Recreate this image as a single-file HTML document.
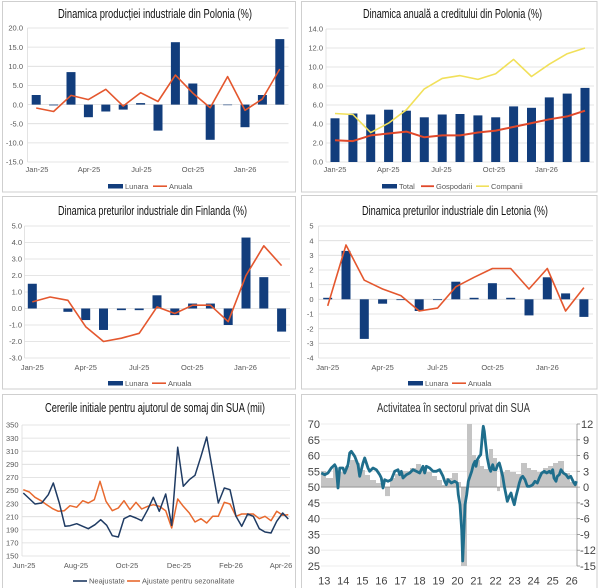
<!DOCTYPE html>
<html><head><meta charset="utf-8"><style>
html,body{margin:0;padding:0;background:#fff;}
svg{display:block;}
.t{font-family:"Liberation Sans Narrow","Liberation Sans",sans-serif;font-size:12.5px;fill:#111;}
.tk{font-family:"Liberation Sans",sans-serif;font-size:7.5px;fill:#595959;}
.lg{font-family:"Liberation Sans",sans-serif;font-size:7.5px;fill:#595959;}
.tk6{font-family:"Liberation Sans Narrow","Liberation Sans",sans-serif;font-size:11px;fill:#444;}
.g{stroke:#dcdcdc;stroke-width:0.8;}
</style></head><body>
<svg width="600" height="588" viewBox="0 0 600 588" xmlns="http://www.w3.org/2000/svg">
<rect width="600" height="588" fill="#fff"/>
<!-- panel borders -->
<g fill="none" stroke="#cfcfcf" stroke-width="1">
<rect x="2.5" y="1.5" width="293" height="190.5"/>
<rect x="301.5" y="1.5" width="295.5" height="190.5"/>
<rect x="2.5" y="196.5" width="293" height="192.5"/>
<rect x="301.5" y="195.5" width="295.5" height="193.5"/>
<rect x="2.5" y="394.5" width="293" height="195"/>
<rect x="301.5" y="394.5" width="295.5" height="195"/>
</g>

<!-- ============ PANEL 1 ============ -->
<text class="t" x="58" y="18" textLength="194" lengthAdjust="spacingAndGlyphs">Dinamica producției industriale din Polonia (%)</text>
<g class="g">
<line x1="27.5" y1="28" x2="288.5" y2="28"/><line x1="27.5" y1="47.1" x2="288.5" y2="47.1"/>
<line x1="27.5" y1="66.3" x2="288.5" y2="66.3"/><line x1="27.5" y1="85.4" x2="288.5" y2="85.4"/>
<line x1="27.5" y1="104.6" x2="288.5" y2="104.6"/><line x1="27.5" y1="123.7" x2="288.5" y2="123.7"/>
<line x1="27.5" y1="142.9" x2="288.5" y2="142.9"/><line x1="27.5" y1="162" x2="288.5" y2="162"/>
<line x1="27.5" y1="28" x2="27.5" y2="162"/>
</g>
<g class="tk" text-anchor="end">
<text x="23" y="30.7">20.0</text><text x="23" y="49.8">15.0</text><text x="23" y="69">10.0</text>
<text x="23" y="88.1">5.0</text><text x="23" y="107.3">0.0</text><text x="23" y="126.4">-5.0</text>
<text x="23" y="145.6">-10.0</text><text x="23" y="164.7">-15.0</text>
</g>
<g class="tk" text-anchor="middle">
<text x="37" y="172">Jan-25</text><text x="89" y="172">Apr-25</text><text x="141.5" y="172">Jul-25</text>
<text x="193" y="172">Oct-25</text><text x="245" y="172">Jan-26</text>
</g>
<g fill="#123d7c">
<rect x="31.7" y="95" width="9" height="9.6"/><rect x="49.1" y="104.6" width="9" height="0.8"/>
<rect x="66.5" y="72.1" width="9" height="32.5"/><rect x="83.9" y="104.6" width="9" height="12.6"/>
<rect x="101.3" y="104.6" width="9" height="6.9"/><rect x="118.7" y="104.6" width="9" height="5"/>
<rect x="136.1" y="103.1" width="9" height="1.5"/><rect x="153.5" y="104.6" width="9" height="26"/>
<rect x="170.9" y="42.2" width="9" height="62.4"/><rect x="188.3" y="83.5" width="9" height="21.1"/>
<rect x="205.7" y="104.6" width="9" height="35.2"/><rect x="223.1" y="104.6" width="9" height="0.6"/>
<rect x="240.5" y="104.6" width="9" height="22.6"/><rect x="257.9" y="95" width="9" height="9.6"/>
<rect x="275.3" y="39.1" width="9" height="65.5"/>
</g>
<polyline fill="none" stroke="#e4572e" stroke-width="1.6" stroke-linejoin="round" points="36.2,108 53.6,111.5 71,95.4 88.4,99.6 105.8,89.3 123.2,106.1 140.6,92.7 158,101.5 175.4,75.1 192.8,93.1 210.2,107.7 227.6,76.6 245,110.3 262.4,98.9 279.8,69"/>
<rect x="108" y="184" width="15" height="4.5" fill="#123d7c"/>
<text class="lg" x="125" y="188.8">Lunara</text>
<line x1="153" y1="186.2" x2="167" y2="186.2" stroke="#e4572e" stroke-width="1.6"/>
<text class="lg" x="169" y="188.8">Anuala</text>

<!-- ============ PANEL 2 ============ -->
<text class="t" x="363" y="18" textLength="179" lengthAdjust="spacingAndGlyphs">Dinamica anuală a creditului din Polonia (%)</text>
<g class="g">
<line x1="326" y1="29" x2="594" y2="29"/><line x1="326" y1="48" x2="594" y2="48"/>
<line x1="326" y1="67" x2="594" y2="67"/><line x1="326" y1="86" x2="594" y2="86"/>
<line x1="326" y1="105" x2="594" y2="105"/><line x1="326" y1="124" x2="594" y2="124"/>
<line x1="326" y1="143" x2="594" y2="143"/><line x1="326" y1="162" x2="594" y2="162"/>
<line x1="326" y1="29" x2="326" y2="162"/>
</g>
<g class="tk" text-anchor="end">
<text x="323" y="31.7">14.0</text><text x="323" y="50.7">12.0</text><text x="323" y="69.7">10.0</text>
<text x="323" y="88.7">8.0</text><text x="323" y="107.7">6.0</text><text x="323" y="126.7">4.0</text>
<text x="323" y="145.7">2.0</text><text x="323" y="164.7">0.0</text>
</g>
<g class="tk" text-anchor="middle">
<text x="335" y="172">Jan-25</text><text x="388.3" y="172">Apr-25</text><text x="441.5" y="172">Jul-25</text>
<text x="494" y="172">Oct-25</text><text x="546.5" y="172">Jan-26</text>
</g>
<g fill="#123d7c">
<rect x="330.5" y="118.3" width="9" height="43.7"/><rect x="348.4" y="113.5" width="9" height="48.5"/>
<rect x="366.2" y="114.5" width="9" height="47.5"/><rect x="384.1" y="109.7" width="9" height="52.3"/>
<rect x="401.9" y="110.7" width="9" height="51.3"/><rect x="419.8" y="117.3" width="9" height="44.7"/>
<rect x="437.7" y="114.5" width="9" height="47.5"/><rect x="455.5" y="114" width="9" height="48"/>
<rect x="473.4" y="115.4" width="9" height="46.6"/><rect x="491.2" y="117.3" width="9" height="44.7"/>
<rect x="509.1" y="106.4" width="9" height="55.6"/><rect x="527" y="107.8" width="9" height="54.2"/>
<rect x="544.8" y="97.4" width="9" height="64.6"/><rect x="562.7" y="93.6" width="9" height="68.4"/>
<rect x="580.5" y="87.9" width="9" height="74.1"/>
</g>
<polyline fill="none" stroke="#e0482a" stroke-width="2" stroke-linejoin="round" points="335,140.2 352.9,141.1 370.7,135.4 388.6,133.5 406.4,131.6 424.3,137.3 442.2,135.4 460,135.4 477.9,132.5 495.7,130.6 513.6,126.9 531.5,123.1 549.3,119.3 567.2,116.4 585,110.7"/>
<polyline fill="none" stroke="#f1e05a" stroke-width="1.6" stroke-linejoin="round" points="335,113.5 352.9,114.5 370.7,132.6 388.6,123.1 406.4,109.8 424.3,88.9 442.2,78.4 460,75.6 477.9,79.4 495.7,73.7 513.6,59.4 531.5,76.5 549.3,64.2 567.2,53.7 585,48"/>
<rect x="382" y="184" width="15" height="4.5" fill="#123d7c"/>
<text class="lg" x="399" y="188.8">Total</text>
<line x1="421" y1="186.2" x2="434" y2="186.2" stroke="#e0482a" stroke-width="1.8"/>
<text class="lg" x="436" y="188.8">Gospodarii</text>
<line x1="476" y1="186.2" x2="489" y2="186.2" stroke="#f1e05a" stroke-width="1.6"/>
<text class="lg" x="491" y="188.8">Companii</text>

<!-- ============ PANEL 3 ============ -->
<text class="t" x="58" y="215" textLength="189" lengthAdjust="spacingAndGlyphs">Dinamica preturilor industriale din Finlanda (%)</text>
<g class="g">
<line x1="24.5" y1="226" x2="290" y2="226"/><line x1="24.5" y1="242.5" x2="290" y2="242.5"/>
<line x1="24.5" y1="259" x2="290" y2="259"/><line x1="24.5" y1="275.5" x2="290" y2="275.5"/>
<line x1="24.5" y1="292" x2="290" y2="292"/><line x1="24.5" y1="308.5" x2="290" y2="308.5"/>
<line x1="24.5" y1="325" x2="290" y2="325"/><line x1="24.5" y1="341.5" x2="290" y2="341.5"/>
<line x1="24.5" y1="358" x2="290" y2="358"/>
<line x1="24.5" y1="226" x2="24.5" y2="358"/>
</g>
<g class="tk" text-anchor="end">
<text x="22" y="228.7">5.0</text><text x="22" y="245.2">4.0</text><text x="22" y="261.7">3.0</text>
<text x="22" y="278.2">2.0</text><text x="22" y="294.7">1.0</text><text x="22" y="311.2">0.0</text>
<text x="22" y="327.7">-1.0</text><text x="22" y="344.2">-2.0</text><text x="22" y="360.7">-3.0</text>
</g>
<g class="tk" text-anchor="middle">
<text x="32.3" y="370">Jan-25</text><text x="85.7" y="370">Apr-25</text><text x="139.2" y="370">Jul-25</text>
<text x="192.3" y="370">Oct-25</text><text x="245.5" y="370">Jan-26</text>
</g>
<g fill="#123d7c">
<rect x="27.8" y="283.75" width="9" height="24.75"/>
<rect x="63.4" y="308.5" width="9" height="3.3"/><rect x="81.2" y="308.5" width="9" height="11.55"/>
<rect x="99" y="308.5" width="9" height="21.45"/><rect x="116.9" y="308.5" width="9" height="1.65"/>
<rect x="134.7" y="308.5" width="9" height="1.65"/><rect x="152.5" y="295.3" width="9" height="13.2"/>
<rect x="170.3" y="308.5" width="9" height="6.6"/><rect x="188.1" y="303.55" width="9" height="4.95"/>
<rect x="205.9" y="303.55" width="9" height="4.95"/><rect x="223.7" y="308.5" width="9" height="16.5"/>
<rect x="241.5" y="237.55" width="9" height="70.95"/><rect x="259.3" y="277.15" width="9" height="31.35"/>
<rect x="277.1" y="308.5" width="9" height="23.1"/>
</g>
<polyline fill="none" stroke="#e4572e" stroke-width="1.6" stroke-linejoin="round" points="32.3,301.9 50.1,297 67.9,300.3 85.7,326.7 103.5,341.5 121.4,338.2 139.2,333.3 157,306.9 174.8,313.5 192.6,305.2 210.4,305.2 228.2,321.7 246,275.5 263.8,245.8 281.6,265.6"/>
<rect x="108" y="381" width="15" height="4.5" fill="#123d7c"/>
<text class="lg" x="125" y="385.8">Lunara</text>
<line x1="152" y1="383.2" x2="166" y2="383.2" stroke="#e4572e" stroke-width="1.6"/>
<text class="lg" x="168" y="385.8">Anuala</text>

<!-- ============ PANEL 4 ============ -->
<text class="t" x="362" y="215" textLength="186" lengthAdjust="spacingAndGlyphs">Dinamica preturilor industriale din Letonia (%)</text>
<g class="g">
<line x1="318.5" y1="226" x2="593" y2="226"/><line x1="318.5" y1="240.7" x2="593" y2="240.7"/>
<line x1="318.5" y1="255.3" x2="593" y2="255.3"/><line x1="318.5" y1="270" x2="593" y2="270"/>
<line x1="318.5" y1="284.7" x2="593" y2="284.7"/><line x1="318.5" y1="299.3" x2="593" y2="299.3"/>
<line x1="318.5" y1="314" x2="593" y2="314"/><line x1="318.5" y1="328.7" x2="593" y2="328.7"/>
<line x1="318.5" y1="343.3" x2="593" y2="343.3"/><line x1="318.5" y1="358" x2="593" y2="358"/>
<line x1="318.5" y1="226" x2="318.5" y2="358"/>
</g>
<g class="tk" text-anchor="end">
<text x="313.5" y="228.7">5</text><text x="313.5" y="243.4">4</text><text x="313.5" y="258">3</text>
<text x="313.5" y="272.7">2</text><text x="313.5" y="287.4">1</text><text x="313.5" y="302">0</text>
<text x="313.5" y="316.7">-1</text><text x="313.5" y="331.4">-2</text><text x="313.5" y="346">-3</text>
<text x="313.5" y="360.7">-4</text>
</g>
<g class="tk" text-anchor="middle">
<text x="327.7" y="370">Jan-25</text><text x="382.6" y="370">Apr-25</text><text x="437.5" y="370">Jul-25</text>
<text x="492.6" y="370">Oct-25</text><text x="547.3" y="370">Jan-26</text>
</g>
<g fill="#123d7c">
<rect x="323.2" y="297.8" width="9" height="1.5"/><rect x="341.5" y="250.9" width="9" height="48.4"/>
<rect x="359.8" y="299.3" width="9" height="39.6"/><rect x="378.1" y="299.3" width="9" height="4.4"/>
<rect x="396.4" y="299.3" width="9" height="0.8"/><rect x="414.7" y="299.3" width="9" height="11.7"/>
<rect x="433" y="299.3" width="9" height="0.8"/><rect x="451.3" y="281.7" width="9" height="17.6"/>
<rect x="469.6" y="297.8" width="9" height="1.5"/><rect x="487.9" y="283.2" width="9" height="16.1"/>
<rect x="506.2" y="297.8" width="9" height="1.5"/><rect x="524.5" y="299.3" width="9" height="16.1"/>
<rect x="542.8" y="277.3" width="9" height="22"/><rect x="561.1" y="293.4" width="9" height="5.9"/>
<rect x="579.4" y="299.3" width="9" height="17.6"/>
</g>
<polyline fill="none" stroke="#e4572e" stroke-width="1.6" stroke-linejoin="round" points="327.7,305.9 346,245 364.3,280.2 382.6,289 400.9,295.6 419.2,311 437.5,308.1 455.8,286.8 474.1,277.3 492.4,268.5 510.7,268.5 529,289 547.3,268.5 565.6,311 583.9,287.6"/>
<rect x="408" y="381" width="15" height="4.5" fill="#123d7c"/>
<text class="lg" x="425" y="385.8">Lunara</text>
<line x1="452" y1="383.2" x2="466" y2="383.2" stroke="#e4572e" stroke-width="1.6"/>
<text class="lg" x="468" y="385.8">Anuala</text>

<!-- ============ PANEL 5 ============ -->
<text class="t" x="45" y="412" textLength="220" lengthAdjust="spacingAndGlyphs">Cererile initiale pentru ajutorul de somaj din SUA (mii)</text>
<g class="g">
<line x1="22" y1="425" x2="290" y2="425"/><line x1="22" y1="438.1" x2="290" y2="438.1"/>
<line x1="22" y1="451.2" x2="290" y2="451.2"/><line x1="22" y1="464.3" x2="290" y2="464.3"/>
<line x1="22" y1="477.4" x2="290" y2="477.4"/><line x1="22" y1="490.5" x2="290" y2="490.5"/>
<line x1="22" y1="503.6" x2="290" y2="503.6"/><line x1="22" y1="516.7" x2="290" y2="516.7"/>
<line x1="22" y1="529.8" x2="290" y2="529.8"/><line x1="22" y1="542.9" x2="290" y2="542.9"/>
<line x1="22" y1="556" x2="290" y2="556"/>
<line x1="22" y1="425" x2="22" y2="556"/>
</g>
<g class="tk" text-anchor="end">
<text x="18.5" y="427.7">350</text><text x="18.5" y="440.8">330</text><text x="18.5" y="453.9">310</text>
<text x="18.5" y="467">290</text><text x="18.5" y="480.1">270</text><text x="18.5" y="493.2">250</text>
<text x="18.5" y="506.3">230</text><text x="18.5" y="519.4">210</text><text x="18.5" y="532.5">190</text>
<text x="18.5" y="545.6">170</text><text x="18.5" y="558.7">150</text>
</g>
<g class="tk" text-anchor="middle">
<text x="24" y="568">Jun-25</text><text x="76" y="568">Aug-25</text><text x="127" y="568">Oct-25</text>
<text x="179" y="568">Dec-25</text><text x="231" y="568">Feb-26</text><text x="281" y="568">Apr-26</text>
</g>
<polyline fill="none" stroke="#e8692e" stroke-width="1.5" stroke-linejoin="round" points="23.3,489.7 29.3,492 35,497.3 41,500.7 46.7,504.7 52.7,508.7 58.3,511.3 64.3,510.7 70,505.7 76.7,507.3 82.7,500.7 88.3,503 94.3,499.7 100,481.3 106,501.3 112.3,510.7 118.3,508 124,500.7 130,509.7 136,502.3 141.7,509 147.7,506.3 153.3,504.7 159.3,506.3 165.7,510.7 171.7,528 177.7,499 183.3,506.3 189.3,513 195,522 201,518.7 206.7,523 212.7,516.3 218.3,516.3 224.3,502.3 230,504 236,516.3 241.7,514 247.7,514 253.3,514 259.3,518.7 265,516.3 271,520.7 276.7,511.3 282.7,515.3 288.3,514.7"/>
<polyline fill="none" stroke="#1f3b63" stroke-width="1.5" stroke-linejoin="round" points="23.3,493 35,504 41.7,503 48.3,494.7 53.3,483 59.3,503 65,526.3 70,525.7 76.7,523.7 82.7,526.3 88.3,528.7 95,524.7 100.7,519.7 106.7,525.3 112.3,535.7 118.3,537 124,518.7 130,515.7 136,518 141.7,520.7 147.7,509.7 153.3,497.3 159.3,511.3 165.7,494 171.7,525.3 177.7,447.3 183.3,486.3 189.3,479.7 195,475.3 201,456.3 206.7,437 212.7,471.3 218.3,503 224.3,488 230,489.7 236,516.3 241.7,526.3 247.7,514 253.3,516.3 259.3,528.7 265,532 271,533 276.7,521.3 282.7,513 288.3,519"/>
<line x1="73" y1="581" x2="87" y2="581" stroke="#1f3b63" stroke-width="1.6"/>
<text class="lg" x="89" y="583.6">Neajustate</text>
<line x1="127" y1="581" x2="140" y2="581" stroke="#e8692e" stroke-width="1.6"/>
<text class="lg" x="142" y="583.6">Ajustate pentru sezonalitate</text>

<!-- ============ PANEL 6 ============ -->
<text class="t" x="377" y="412" textLength="153" lengthAdjust="spacingAndGlyphs" style="fill:#333">Activitatea în sectorul privat din SUA</text>
<g stroke="#e6e6e6" stroke-width="0.8">
<line x1="321" y1="424" x2="577" y2="424"/><line x1="321" y1="439.8" x2="577" y2="439.8"/>
<line x1="321" y1="455.6" x2="577" y2="455.6"/><line x1="321" y1="471.3" x2="577" y2="471.3"/>
<line x1="321" y1="502.9" x2="577" y2="502.9"/><line x1="321" y1="518.7" x2="577" y2="518.7"/>
<line x1="321" y1="534.4" x2="577" y2="534.4"/><line x1="321" y1="550.2" x2="577" y2="550.2"/>
<line x1="321" y1="566" x2="577" y2="566"/>
</g>
<!-- gray bars -->
<g fill="#c4c4c4">
<rect x="321" y="471" width="5" height="16.1"/><rect x="326" y="478" width="7" height="9.1"/>
<rect x="333" y="468" width="5" height="19.1"/><rect x="338" y="472" width="7" height="15.1"/>
<rect x="345" y="466" width="5" height="21.1"/><rect x="350" y="460" width="6" height="27.1"/>
<rect x="356" y="463" width="4" height="24.1"/><rect x="360" y="470" width="5" height="17.1"/>
<rect x="365" y="475" width="5" height="12.1"/><rect x="370" y="480" width="6" height="7.1"/>
<rect x="376" y="483" width="6" height="4.1"/><rect x="382" y="486" width="3" height="1.1"/>
<rect x="385" y="487.1" width="5" height="9"/><rect x="390" y="478" width="5" height="9.1"/>
<rect x="395" y="474" width="5" height="13.1"/><rect x="400" y="471" width="10" height="16.1"/>
<rect x="410" y="468" width="6" height="19.1"/><rect x="416" y="464" width="5" height="23.1"/>
<rect x="421" y="468" width="6" height="19.1"/><rect x="427" y="472" width="5" height="15.1"/>
<rect x="432" y="476" width="5" height="11.1"/><rect x="437" y="480" width="5" height="7.1"/>
<rect x="442" y="485" width="4" height="2.1"/><rect x="446" y="478" width="6" height="9.1"/>
<rect x="452" y="473" width="6" height="14.1"/><rect x="458" y="482" width="3" height="5.1"/>
<rect x="461" y="487.1" width="6" height="78.9"/><rect x="467" y="424" width="5" height="63.1"/>
<rect x="472" y="455" width="4" height="32.1"/><rect x="476" y="460" width="4" height="27.1"/>
<rect x="480" y="466" width="4" height="21.1"/><rect x="484" y="469" width="5" height="18.1"/>
<rect x="489" y="449" width="4" height="38.1"/><rect x="493" y="458" width="4" height="29.1"/>
<rect x="497" y="487.1" width="3" height="4"/><rect x="500" y="472" width="5" height="15.1"/>
<rect x="505" y="470" width="5" height="17.1"/><rect x="510" y="472" width="6" height="15.1"/>
<rect x="516" y="474" width="5" height="13.1"/><rect x="521" y="463" width="6" height="24.1"/>
<rect x="527" y="468" width="4" height="19.1"/><rect x="531" y="470" width="6" height="17.1"/>
<rect x="537" y="472" width="6" height="15.1"/><rect x="543" y="468" width="5" height="19.1"/>
<rect x="548" y="466" width="5" height="21.1"/><rect x="553" y="463" width="5" height="24.1"/>
<rect x="558" y="461" width="6" height="26.1"/><rect x="564" y="473" width="6" height="14.1"/>
<rect x="570" y="482" width="6" height="5.1"/>
</g>
<line x1="321" y1="487.1" x2="577" y2="487.1" stroke="#8a8a8a" stroke-width="0.9"/>
<g stroke="#8a8a8a" stroke-width="0.8">
<line x1="577" y1="424" x2="577" y2="566"/>
<line x1="577" y1="424" x2="580" y2="424"/><line x1="577" y1="439.8" x2="580" y2="439.8"/>
<line x1="577" y1="455.6" x2="580" y2="455.6"/><line x1="577" y1="471.3" x2="580" y2="471.3"/>
<line x1="577" y1="487.1" x2="580" y2="487.1"/><line x1="577" y1="502.9" x2="580" y2="502.9"/>
<line x1="577" y1="518.7" x2="580" y2="518.7"/><line x1="577" y1="534.4" x2="580" y2="534.4"/>
<line x1="577" y1="550.2" x2="580" y2="550.2"/><line x1="577" y1="566" x2="580" y2="566"/>
</g>
<polyline fill="none" stroke="#1f6e8c" stroke-width="2.8" stroke-linejoin="round" points="321.3,473 324.7,474.7 328,473 331.3,468 334.7,464.7 336.3,468 338,488 339.7,468 343,468 344.7,473 348,464.7 349.7,453 351.3,451.3 354.7,456.3 358,464.7 359.7,476.3 363,463 364.7,458 368,468 369.7,471.3 373,468 376.3,469.7 379.7,474.7 381.3,478 383,488 384.7,479.7 388,481.3 391.3,479.7 394.7,471.3 398,469.7 399.7,474.7 401.3,471.3 403,478 406.3,474.7 409.7,473 413,469.7 416.3,471.3 419.7,473 421.3,469.7 423,466.3 424.7,473 426.3,466.3 429.7,468 433,471.3 436.3,471.3 439.7,469.7 443,476.3 444.7,481.3 446.3,484.7 448,479.7 451.3,483 454.7,481.3 457.3,483 458.3,494.7 460,504.7 461.7,530 462.7,561 464,530 465,504.7 466.7,494.7 468.3,481.3 470,476.3 471.7,471.3 473.3,464.7 475,461.3 476,466.3 477.3,459.7 479.3,456.3 480.7,454.7 481.7,443 482.7,431.3 483.3,426.3 484.3,431.3 485.7,444.7 487.3,458 489.3,468 490.7,471.3 492.7,464.7 494,469.7 496,469.7 497.7,464.7 499.3,463 500.7,468 502.7,476.3 504.3,486.3 506,494.7 507.3,501.3 509.3,496.3 511,493 512.7,499.7 514.3,504.7 516,496.3 517.7,489.7 519.3,483 521,478 522.7,476.3 525,479.7 527.3,486.3 530,486.3 532.7,484.7 535,481.3 537.3,483 539.3,478 541.7,473 544.3,471.3 546.7,473 549.3,471.3 551,473 552.7,469.7 554,478 556,481.3 557.3,476.3 559.3,474.7 561,469.7 563.3,473 566,474.7 568.3,478 570.7,476.3 572.3,479.7 574,483 575.2,484.7 576.5,481.3"/>
<g class="tk6" text-anchor="end">
<text x="320" y="428">70</text><text x="320" y="443.8">65</text><text x="320" y="459.6">60</text>
<text x="320" y="475.3">55</text><text x="320" y="491.1">50</text><text x="320" y="506.9">45</text>
<text x="320" y="522.7">40</text><text x="320" y="538.4">35</text><text x="320" y="554.2">30</text>
<text x="320" y="570">25</text>
</g>
<g class="tk6" text-anchor="start">
<text x="581" y="428">12</text><text x="583" y="443.8">9</text><text x="583" y="459.6">6</text>
<text x="583" y="475.3">3</text><text x="583" y="491.1">0</text><text x="580" y="506.9">-3</text>
<text x="580" y="522.7">-6</text><text x="580" y="538.4">-9</text><text x="580" y="554.2">-12</text>
<text x="580" y="570">-15</text>
</g>
<g class="tk6" text-anchor="middle">
<text x="324.3" y="584.5">13</text><text x="343.3" y="584.5">14</text><text x="362.4" y="584.5">15</text>
<text x="381.4" y="584.5">16</text><text x="400.4" y="584.5">17</text><text x="419.5" y="584.5">18</text>
<text x="438.5" y="584.5">19</text><text x="457.5" y="584.5">20</text><text x="476.5" y="584.5">21</text>
<text x="495.6" y="584.5">22</text><text x="514.6" y="584.5">23</text><text x="533.6" y="584.5">24</text>
<text x="552.7" y="584.5">25</text><text x="571.7" y="584.5">26</text>
</g>
</svg>
</body></html>
